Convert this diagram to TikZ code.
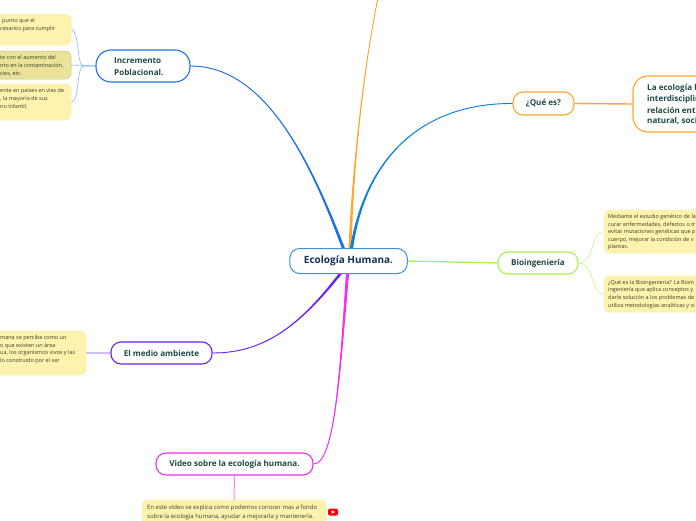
\documentclass[tikz,border=0pt]{standalone}
\usepackage{fontspec}
\setmainfont{Open Sans}
\usetikzlibrary{backgrounds,calc}
\definecolor{ink}{HTML}{1D4A46}
\definecolor{rootink}{HTML}{12315A}
\definecolor{note}{HTML}{FDF3AE}
\definecolor{noteline}{HTML}{F8EEA2}
\definecolor{notedark}{HTML}{E9E49A}
\definecolor{notetext}{HTML}{3F3B28}
\definecolor{cblue}{HTML}{1C6FEA}
\definecolor{cqblue}{HTML}{0B7FE0}
\definecolor{corange}{HTML}{FFA62B}
\definecolor{cgreen}{HTML}{A8F04E}
\definecolor{cpurple}{HTML}{6A22F0}
\definecolor{cmag}{HTML}{F22EF0}
\definecolor{rootline}{HTML}{3E94D6}
\tikzset{
 x=1pt,y=-1pt,
 sized/.style 2 args={minimum width=#1pt,minimum height=#2pt},
 topic/.style={draw,line width=1.1pt,fill=white,rounded corners=10pt,inner sep=0pt,text=ink,
   font=\fontsize{8.1}{11}\selectfont\bfseries},
 rootnode/.style={draw=#1,line width=1pt,fill=white,rounded corners=10pt,inner sep=0pt},
 notebox/.style={fill=note,draw=noteline,line width=.5pt,rounded corners=6pt,inner sep=0pt},
 noteword/.style={anchor=west,inner sep=0pt,text=notetext,font=\fontsize{5.5}{7}\selectfont},
 longword/.style={noteword,font=\fontsize{5.95}{7}\selectfont},
 topicword/.style={anchor=west,inner sep=0pt,text=ink,font=\fontsize{8.1}{11}\selectfont\bfseries},
 twig/.style={line width=.7pt}
}
\newcommand{\taper}[5]{\draw[#1,fill=#1,line width=.9pt,line join=round] ($#2+(-1.1,0)$) .. controls #3 and #4 .. #5 .. controls #4 and #3 .. ($#2+(1.1,0)$) -- cycle;}
\begin{document}
\begin{tikzpicture}
\useasboundingbox (0,0) rectangle (696,520);
\clip (0,0) rectangle (696,520);

% central node
\node[rootnode=rootline,sized={117.5}{25},text=rootink,font=\fontsize{10}{12}\selectfont\bfseries] (root) at (348.5,261) {Ecología Humana.};
\coordinate (r1) at (343.5,248.5);
\coordinate (r2) at (350,248.5);
\coordinate (r3) at (351.5,248.5);
\coordinate (r4) at (340.5,273.5);
\coordinate (r5) at (347.5,273.5);
\coordinate (top) at (378,-2);

% main topics
\node[topic,draw=cblue,rounded corners=15pt,sized={94}{32}] (inc) at (143,66) {};
\node[topicword] (inc1) at (114,61) {Incremento};
\node[topicword] (inc2) at (114,72.5) {Poblacional.};
\node[topic,draw=corange,sized={61}{23},yshift=0pt] (que) at (543.5,103.5) {\raisebox{-.8pt}{¿Qué es?}};
\node[topic,draw=corange,rounded corners=15pt,sized={90}{56}] (def) at (678,104) {};
\node[topicword] (def1) at (647,88) {La ecología h};
\node[topicword] (def2) at (647,99) {interdisciplin};
\node[topicword] (def3) at (647,110) {relación ent};
\node[topicword] (def4) at (647,121) {natural, soci};
\node[topic,draw=cgreen,sized={80}{22}] (bio) at (538,263) {\raisebox{-1pt}{Bioingeniería}};
\node[topic,draw=cpurple,sized={101}{22}] (med) at (161.5,353) {El medio ambiente};
\node[topic,draw=cmag,sized={157}{22}] (vid) at (234.5,464) {Video sobre la ecología humana.};

% note boxes
\node[notebox,sized={100}{31}] (n1) at (21,29.5) {};
\node[noteword] (n1a) at (2,21.5) {punto que el};
\node[noteword] (n1b) at (0,29.5) {cesarios para cumplir};
\node[notebox,fill=notedark,draw=notedark!85!black,sized={100}{28}] (n2) at (21,65) {};
\node[noteword] (n2a) at (0,57.5) {te con el aumento del};
\node[noteword] (n2b) at (0,65.5) {nto en la contaminación,};
\node[noteword] (n2c) at (0,73.5) {cies, etc.};
\node[notebox,sized={100}{36}] (n3) at (21,102) {};
\node[noteword] (n3a) at (0,91) {ente en países en vías de};
\node[noteword] (n3b) at (0,99) {, la mayoría de sus};
\node[noteword] (n3c) at (0,106.5) {no infantil,};
\node[notebox,sized={120}{44}] (n4) at (26,353) {};
\node[noteword] (n4a) at (0,338) {mana se percibe como un};
\node[noteword] (n4b) at (0,346) {o que existen un área};
\node[noteword] (n4c) at (0,353.5) {ua, los organismos vivos y las};
\node[noteword] (n4d) at (0,361) {lo construido por el ser};
\node[notebox,sized={184}{40}] (n5) at (234,520) {};
\node[longword] (n5a) at (147,507.5) {En este video se explica como podemos conocer mas a fondo};
\node[longword] (n5b) at (147,517) {sobre la ecologia humana, ayudar a mejorarla y mantenerla.};
\node[notebox,sized={150}{43}] (n6) at (679,231.5) {};
\node[noteword] (n6a) at (608,217) {Mediante el estudio genético de la};
\node[noteword] (n6b) at (608,225) {curar enfermedades, defectos o tr};
\node[noteword] (n6c) at (608,232.5) {evitar mutaciones genéticas que p};
\node[noteword] (n6d) at (608,240) {cuerpo, mejorar la condición de v};
\node[noteword] (n6e) at (608,247.5) {plantas.};
\node[notebox,sized={150}{36}] (n7) at (679,294) {};
\node[noteword] (n7a) at (608,283) {¿Qué es la Bioingeniería? La Bioin};
\node[noteword] (n7b) at (608,290.5) {ingeniería que aplica conceptos y};
\node[noteword] (n7c) at (608,298) {darle solución a los problemas de};
\node[noteword] (n7d) at (608,306) {utiliza metodologías analíticas y si};

% youtube icon
\node[fill=red,rounded corners=1.5pt,sized={10}{7},inner sep=0pt] (yt) at (333,512) {};
\fill[white] (331.6,510.2) -- (335,512) -- (331.6,513.8) -- cycle;

% connectors
\begin{scope}[on background layer]
\taper{corange}{(r2)}{(353,160)}{(365,60)}{(top)}
\taper{cblue}{(r1)}{(310,160)}{(265,66)}{(inc.east)}
\taper{cqblue}{(r3)}{(365,160)}{(420,103)}{(que.west)}
\taper{cpurple}{(r4)}{(300,325)}{(265,353)}{(med.east)}
\taper{cmag}{(r5)}{(340,370)}{(335,464)}{(vid.east)}
\draw[cgreen,line width=1.3pt] (root.east) -- (bio.west);
\draw[corange,line width=1.4pt] (que.east) -- (def.west);
\draw[cpurple!30,line width=1.4pt] (med.west) -- (n4.east);
\draw[cmag!60,line width=1pt] (vid.south) -- (n5.north);
\draw[cblue!45,twig] (inc.west) -- (84,66) .. controls (76,66) and (80,31) .. (n1.east);
\draw[cblue!45,twig] (inc.west) -- (n2.east);
\draw[cblue!45,twig] (inc.west) -- (84,66) .. controls (76,66) and (80,102) .. (n3.east);
\draw[cgreen!60,twig] (bio.east) .. controls (595,263) and (590,232) .. (n6.west);
\draw[cgreen!60,twig] (bio.east) .. controls (595,263) and (590,294) .. (n7.west);
\end{scope}
\end{tikzpicture}
\end{document}
